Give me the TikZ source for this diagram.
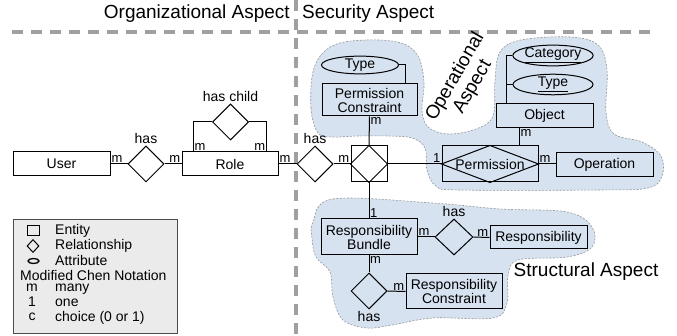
\documentclass[tikz,border=0pt]{standalone}
\usepackage{fontspec}
\setmainfont{Liberation Sans}
\usetikzlibrary{shapes.geometric,positioning,backgrounds}

\definecolor{blobblue}{RGB}{214,226,240}
\definecolor{blobedge}{RGB}{150,150,150}
\definecolor{divgray}{RGB}{160,160,160}

\tikzset{
    entity/.style={draw, line width=1pt, minimum height=24pt, inner sep=0pt, align=center,
        font=\fontsize{14}{14}\selectfont},
    rel/.style={draw, diamond, line width=1pt, minimum width=36pt, minimum height=36pt, inner sep=0pt},
    attr/.style={draw, ellipse, line width=1pt, minimum width=78pt, minimum height=16pt, inner sep=0pt,
        font=\fontsize{14}{14}\selectfont},
    card/.style={inner sep=1pt, font=\fontsize{13}{13}\selectfont},
    lbl/.style={inner sep=1pt, font=\fontsize{14}{14}\selectfont},
    aspect/.style={inner sep=0pt, align=center, font=\fontsize{19}{20}\selectfont},
    divider/.style={draw=divgray, line width=3.5pt, dash pattern=on 11pt off 8pt},
    blob/.style={fill=blobblue, draw=blobedge, line width=0.6pt, dash pattern=on 2pt off 1.5pt},
    conn/.style={line width=1pt},
}

\begin{document}
\begin{tikzpicture}[x=1pt, y=-1pt]
    % white background
    \begin{scope}[on background layer]
        \fill [white] (0,0) rectangle (677,336);
    \end{scope}
    \useasboundingbox (0,0) rectangle (677,336);

    % aspect areas
    \draw[divider] (12,32) -- (652,32);
    \draw[divider] (296,0) -- (296,336);
    \node[aspect, anchor=east] (orgasp) at (290,14) {Organizational Aspect};
    \node[aspect, anchor=west] (secasp) at (302,14) {Security Aspect};

    % blobs
    \draw[blob] plot[smooth cycle, tension=0.6] coordinates {
        (318,133) (311,108) (314,68) (332,46) (366,40) (401,43) (418,56) (424,82) (422,110)
        (428,127) (448,134) (476,129) (493,116) (495,80) (500,52) (521,40) (570,37) (598,45)
        (607,70) (606,112) (614,134) (642,142) (661,156) (662,176) (648,188) (600,190)
        (460,190) (436,186) (427,170) (425,148) (412,138) (388,136) (358,136) (332,137)};
    \draw[blob] plot[smooth cycle, tension=0.6] coordinates {
        (313,222) (333,199) (433,203) (500,209) (567,212) (592,227) (592,247) (567,257)
        (518,260) (508,276) (507,303) (493,318) (433,318) (392,325) (367,328) (343,320)
        (333,297) (330,272) (316,257) (312,238)};
    \node[aspect, rotate=60] (opasp) at (464,82) {Operational\\Aspect};
    \node[aspect] (strasp) at (586,272) {Structural Aspect};

    % organizational part
    \node[entity, minimum width=97pt] (user) at (61.5,164) {User};
    \node[rel] (has1) at (146,164) {};
    \node[entity, minimum width=96pt] (role) at (230,164) {Role};
    \node[rel] (haschild) at (230.5,122) {};
    \node[rel] (has2) at (315,164) {};

    % operational part
    \node[entity, minimum width=36pt, minimum height=36pt] (assoc) at (369,164) {};
    \node[entity, minimum width=95pt, minimum height=32pt] (pcon) at (369.5,100) {Permission\\Constraint};
    \node[attr, minimum width=77pt] (pctype) at (360,65) {Type};
    \node[entity, minimum width=96pt, minimum height=36pt] (perm) at (490,164) {Permission};
    \node[entity, minimum width=97pt] (object) at (544.5,116) {Object};
    \node[attr, minimum width=80pt, minimum height=15pt] (category) at (553,55.5) {\underline{Category}};
    \node[attr, minimum width=80pt, minimum height=15pt] (objtype) at (553,84.5) {\underline{Type}};
    \node[entity, minimum width=97pt] (operation) at (604.5,165) {Operation};

    % structural part
    \node[entity, minimum width=96pt, minimum height=36pt] (bundle) at (369,237) {Responsibility\\Bundle};
    \node[rel, minimum width=38pt] (has3) at (454,237) {};
    \node[entity, minimum width=97pt, minimum height=23pt] (resp) at (538.5,237.5) {Responsibility};
    \node[rel] (has4) at (369,291) {};
    \node[entity, minimum width=96pt, minimum height=35pt] (rcon) at (454,291.5) {Responsibility\\Constraint};

    % diamonds inside entities
    \draw[conn] (assoc.west) -- (assoc.north) -- (assoc.east) -- (assoc.south) -- cycle;
    \draw[conn] (perm.west) -- (perm.north) -- (perm.east) -- (perm.south) -- cycle;

    % connectors
    \draw[conn] (user.east) -- (has1.west);
    \draw[conn] (has1.east) -- (role.west);
    \draw[conn] (haschild.west) -| ([xshift=12pt]role.north west);
    \draw[conn] (haschild.east) -| ([xshift=-12pt]role.north east);
    \draw[conn] (role.east) -- (has2.west);
    \draw[conn] (has2.east) -- (assoc.west);
    \draw[conn] (assoc.east) -- (perm.west);
    \draw[conn] (pcon.south) -- (assoc.north);
    \draw[conn] (pctype.east) -| ([xshift=-12pt]pcon.north east);
    \draw[conn] (perm.east) -- (perm.east -| operation.west);
    \coordinate (objfoot) at ([xshift=24pt]object.south west);
    \draw[conn] (objfoot) -- (objfoot |- perm.north);
    \draw[conn] (category.west) -| ([xshift=11pt]object.north west);
    \draw[conn] (objtype.west) -- ++(-6pt,0);
    \draw[conn] (assoc.south) -- (bundle.north);
    \draw[conn] (bundle.east) -- (has3.west);
    \draw[conn] (has3.east) -- (resp.west);
    \draw[conn] (bundle.south) -- (has4.north);
    \draw[conn] (has4.east) -- (rcon.west);

    % relationship labels
    \node[lbl, above=1pt of has1] (has1lbl) {has};
    \node[lbl, above=1pt of haschild] (haschildlbl) {has child};
    \node[lbl, above=1pt of has2] (has2lbl) {has};
    \node[lbl, above=1pt of has3] (has3lbl) {has};
    \node[lbl, below=1pt of has4] (has4lbl) {has};

    % cardinalities
    \node[card, anchor=south west] (c1) at (user.east) {m};
    \node[card, anchor=south east] (c2) at (role.west) {m};
    \node[card, anchor=south west] (c3) at ([xshift=12pt]role.north west) {m};
    \node[card, anchor=south east] (c4) at ([xshift=-12pt]role.north east) {m};
    \node[card, anchor=south west] (c5) at (role.east) {m};
    \node[card, anchor=south east] (c6) at (assoc.west) {m};
    \node[card, anchor=north west] (c7) at (pcon.south) {m};
    \node[card, anchor=south east] (c8) at (perm.west) {1};
    \node[card, anchor=north west] (c9) at (objfoot) {m};
    \node[card, anchor=south west] (c10) at (perm.east) {m};
    \node[card, anchor=south west] (c11) at (bundle.north) {1};
    \node[card, anchor=south west] (c12) at (bundle.east) {m};
    \node[card, anchor=south east] (c13) at (resp.west) {m};
    \node[card, anchor=north west] (c14) at (bundle.south) {m};
    \node[card, anchor=south east] (c15) at (rcon.west) {m};

    % legend
    \node[draw=black!70, fill=black!8, line width=1pt, minimum width=164pt, minimum height=114pt,
        anchor=north west, inner sep=0pt] (legend) at (13,219) {};
    \node[draw, line width=1pt, minimum width=12pt, minimum height=10pt, inner sep=0pt] (lgent) at (33,231) {};
    \node[draw, diamond, line width=1pt, minimum width=12pt, minimum height=13pt, inner sep=0pt] (lgrel) at (33,246) {};
    \node[draw, ellipse, line width=1.3pt, minimum width=11pt, minimum height=5pt, inner sep=0pt] (lgatt) at (33.5,261) {};
    \node[card, anchor=west, font=\fontsize{14}{14}\selectfont] (lgt1) at (54,231) {Entity};
    \node[card, anchor=west, font=\fontsize{14}{14}\selectfont] (lgt2) at (54,246) {Relationship};
    \node[card, anchor=west, font=\fontsize{14}{14}\selectfont] (lgt3) at (54,260) {Attribute};
    \node[card, anchor=west, font=\fontsize{14}{14}\selectfont] (lgt4) at (19,275) {Modified Chen Notation};
    \node[card, font=\fontsize{14}{14}\selectfont] (lgm) at (32,288) {m};
    \node[card, font=\fontsize{14}{14}\selectfont] (lg1) at (32,302) {1};
    \node[card, font=\fontsize{14}{14}\selectfont] (lgc) at (32,317) {c};
    \node[card, anchor=west, font=\fontsize{14}{14}\selectfont] (lgt5) at (54,289) {many};
    \node[card, anchor=west, font=\fontsize{14}{14}\selectfont] (lgt6) at (54,303) {one};
    \node[card, anchor=west, font=\fontsize{14}{14}\selectfont] (lgt7) at (54,318) {choice (0 or 1)};
\end{tikzpicture}
\end{document}
